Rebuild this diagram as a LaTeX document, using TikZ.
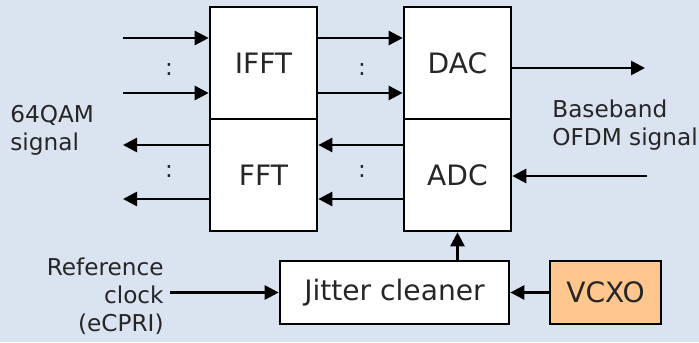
\documentclass[tikz,border=0pt]{standalone}
\usepackage{fontspec}
\setmainfont{DejaVu Sans}
\usetikzlibrary{arrows.meta}
\definecolor{bgblue}{HTML}{DAE3F0}
\definecolor{xoorange}{HTML}{FFC78E}
\tikzset{
  blk/.style = {
    draw, line width=1.5pt, fill=white,
    minimum width=2.14cm, minimum height=2.24cm,
    inner sep=0pt, font=\fontsize{16}{19}\selectfont % block names
  },
  sig/.style = {line width=1.5pt, -{Triangle[length=2.8mm,width=2.8mm]}},
  lbl/.style = {font=\fontsize{13.2}{16}\selectfont, align=left, inner sep=0pt}
}

\begin{document}
\begin{tikzpicture}[scale=1, text=black!85]
\fill[bgblue] (0,0) rectangle (13.98,6.84);
\useasboundingbox (0,0) rectangle (13.98,6.84);
% blocks
\node[blk] (IFFT) at (5.27,5.58) {IFFT};
\node[blk] (FFT)  at (5.27,3.34) {FFT};
\node[blk] (DAC)  at (9.15,5.58) {DAC};
\node[blk] (ADC)  at (9.15,3.34) {ADC};
\node[blk, minimum width=4.58cm, minimum height=1.26cm] (JC) at (7.89,0.99) {Jitter cleaner};
\node[blk, fill=xoorange, minimum width=2.22cm, minimum height=1.26cm] (VCXO) at (12.11,0.99) {VCXO};
% free ends
\coordinate (inA)   at (2.46,6.08);
\coordinate (inB)   at (2.46,4.98);
\coordinate (outA)  at (2.46,3.94);
\coordinate (outB)  at (2.46,2.86);
\coordinate (bbOut) at (12.9,5.48);
\coordinate (bbIn)  at (12.94,3.32);
\coordinate (refIn) at (3.4,0.99);
% transmit side
\draw[sig] (inA) -- (IFFT.west |- inA);
\draw[sig] (inB) -- (IFFT.west |- inB);
\draw[sig] (IFFT.east |- inA) -- (DAC.west |- inA);
\draw[sig] (IFFT.east |- inB) -- (DAC.west |- inB);
\draw[sig] (DAC.east |- bbOut) -- (bbOut);
% receive side
\draw[sig] (bbIn) -- (ADC.east |- bbIn);
\draw[sig] (ADC.west |- outA) -- (FFT.east |- outA);
\draw[sig] (ADC.west |- outB) -- (FFT.east |- outB);
\draw[sig] (FFT.west |- outA) -- (outA);
\draw[sig] (FFT.west |- outB) -- (outB);
% clock
\draw[sig] (JC.north -| ADC) -- (ADC.south);
\draw[sig] (VCXO) -- (JC);
\draw[sig] (refIn) -- (JC.west);
% dots and labels
\node[lbl] (dotsIn)  at (3.38,5.44) {:};
\node[lbl] (dotsMid) at (7.24,5.44) {:};
\node[lbl] (dotsOut) at (3.38,3.40) {:};
\node[lbl] (dotsRx)  at (7.24,3.40) {:};
\node[lbl, anchor=west] (qam) at (0.2,4.24) {64QAM\\signal};
\node[lbl, anchor=west] (bb)  at (11.04,4.34) {Baseband\\OFDM signal};
\node[lbl, align=right, anchor=east] (ref) at (3.28,0.92) {Reference\\clock\\(eCPRI)};
\end{tikzpicture}
\end{document}
